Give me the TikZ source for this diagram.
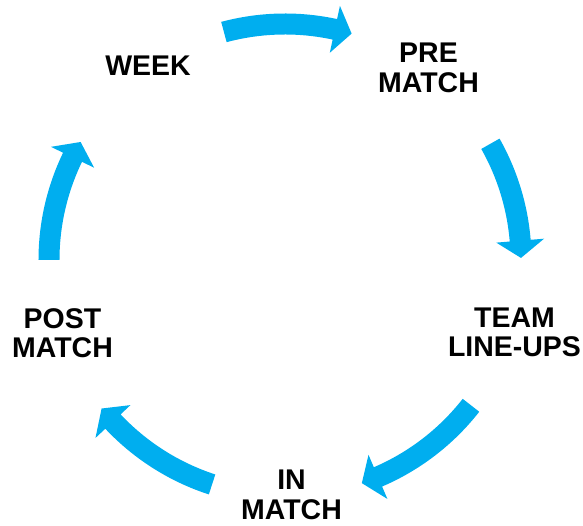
\documentclass[tikz,border=0pt]{standalone}
\usepackage{fontspec}
\setmainfont{Liberation Sans}
\definecolor{cycleblue}{RGB}{0,174,239}

\begin{document}
\begin{tikzpicture}[every node/.append style={font=\bfseries\fontsize{16.2}{16.8}\selectfont, align=center, inner sep=0pt}]
    \useasboundingbox (-5.7,-5.32) rectangle (5.96,5.2);
    \foreach \tail/\tip in {105/73.6, 29.5/0.5, -38/-71, -108/-141, 180/150} {
      \pgfmathsetmacro\base{\tip+4.2}
      \fill[cycleblue] (\tail:4.93) arc[start angle=\tail, end angle=\base, radius=4.93]
        -- (\base:5.2) -- (\tip:4.72) -- (\base:4.24) -- (\base:4.51)
        arc[start angle=\base, end angle=\tail, radius=4.51] -- cycle;
    }
    \node (week) at (-2.74, 3.89) {WEEK};
    \node (prematch) at (2.87, 3.84) {PRE\\MATCH};
    \node (lineups) at (4.59, -1.45) {TEAM\\LINE-UPS};
    \node (inmatch) at (0.13, -4.70) {IN\\MATCH};
    \node (postmatch) at (-4.45, -1.46) {POST\\MATCH};
  \end{tikzpicture}
\end{document}
